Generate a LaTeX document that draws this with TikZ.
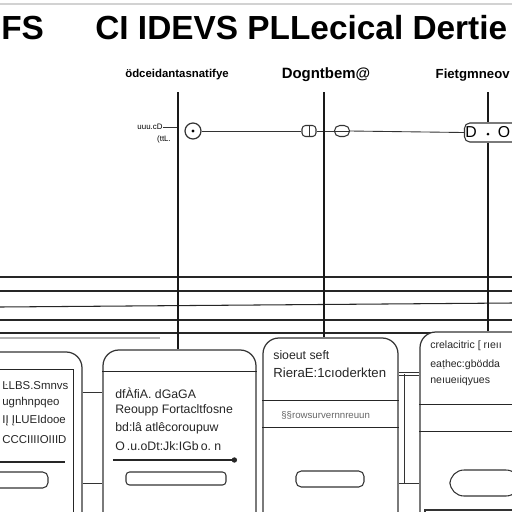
\documentclass[tikz,border=0pt]{standalone}
\usepackage{fontspec}
\setmainfont{Liberation Sans}
\usetikzlibrary{positioning, calc, arrows.meta}

\def\px{0.02cm}

\begin{document}
\begin{tikzpicture}[
  x=0.02cm, y=-0.02cm,
  title/.style={font=\bfseries\fontsize{19}{21}\selectfont, inner sep=0pt},
  collab/.style={font=\bfseries\fontsize{6.5}{7}\selectfont, inner sep=0pt},
  panel/.style={draw=black!80, line width=0.7pt, rounded corners=9pt, fill=white, inner sep=0pt},
  ptext/.style={font=\fontsize{7}{8}\selectfont, anchor=west, inner sep=0pt, text=black!85},
  slot/.style={draw=black!80, line width=0.6pt, rounded corners=2pt, inner sep=0pt},
  rule/.style={draw=black!85, line width=0.6pt},
  stem/.style={draw=black!90, line width=0.9pt},
  wire/.style={draw=black!80, line width=0.5pt},
]

\useasboundingbox (0,0) rectangle (512,512);
\clip (0,0) rectangle (512,512);

%% ====================================================================
%%  TITLE
%% ====================================================================
\draw[gray!35, line width=1.2pt] (0,4) -- (512,4);
\node[title, anchor=west] (ttlA) at (1,28) {FS};
\node[title, anchor=west] (ttlB) at (95,28) {CI IDEVS PLLecical Dertie};

%% ====================================================================
%%  COLUMN LABELS AND STEMS
%% ====================================================================
\node[collab] (colA) at (177,75) {ödceidantasnatifye};
\node[collab, font=\bfseries\fontsize{8.5}{9}\selectfont] (colB) at (326,75) {Dogntbem@};
\node[collab, font=\bfseries\fontsize{7.5}{8}\selectfont, anchor=east] (colC) at (510,75) {Fietgmneov};

\coordinate (stA) at (178,92);
\coordinate (stB) at (324,92);
\coordinate (stC) at (488,92);

%% ====================================================================
%%  UPPER ROW -- DIALS AND PLUGS
%% ====================================================================
\node[font=\fontsize{4.5}{5}\selectfont, inner sep=0pt] (tagA) at (150,127) {uuu.cD};
\node[font=\fontsize{4.5}{5}\selectfont, inner sep=0pt] (tagB) at (164,139) {(ttL.};
\node[draw=black!80, circle, line width=0.7pt, minimum size={16*\px}, inner sep=0pt] (dialA) at (193,131) {};
\fill (dialA) circle (1.6);

\node[slot, minimum width={14*\px}, minimum height={11*\px}] (plugB) at (309,131) {};
\draw[wire] (plugB.north) -- (plugB.south);
\node[slot, rounded corners=3pt, minimum width={15*\px}, minimum height={11*\px}] (lensB) at (342,131) {};
\draw[wire] (lensB.west) -- (lensB.east);

\node[slot, rounded corners=3pt, minimum width={55*\px}, minimum height={19*\px}] (plugC) at (492,132.5) {};
\node[font=\fontsize{9}{9}\selectfont, inner sep=0pt] (plugCd) at (471,132.5) {D};
\node[font=\fontsize{9}{9}\selectfont, inner sep=0pt] (plugCo) at (504,132.5) {O};
\fill (488,134) circle (1.5);

\draw[wire] (tagA.east) -- ++(14,0);
\draw[wire] (dialA.east) -- (plugB.west);
\draw[wire] (plugB.east) -- (lensB.west);
\draw[wire] (lensB.east) -- (plugC.west);

%% ====================================================================
%%  MIDDLE BAND -- RULES
%% ====================================================================
\foreach \yy in {277, 291, 320, 333}
  \draw[rule] (0,\yy) -- (512,\yy);
\draw[rule] (0,307) -- (512,303);
\draw[gray!60, line width=0.8pt] (0,338) -- (160,338);

%% ====================================================================
%%  LOWER ROW -- PANELS
%% ====================================================================
\node[panel, minimum width={102*\px}, minimum height={248*\px}] (boxA) at (31,476) {};
\node[panel, minimum width={153*\px}, minimum height={250*\px}] (boxB) at (179.5,475) {};
\node[panel, minimum width={135*\px}, minimum height={262*\px}] (boxC) at (330.5,469) {};
\node[panel, minimum width={140*\px}, minimum height={268*\px}] (boxD) at (490,466) {};

% panel A
\draw[rule] ($(boxA.north west)+(0,18)$) -| ($(boxA.south east)+(-9,0)$);
\node[ptext, font=\fontsize{6.5}{7}\selectfont] (txA1) at (2,386) {ĿLBS.Smnvs};
\node[ptext, font=\fontsize{6.5}{7}\selectfont] (txA2) at (2,403) {ugnhnpqeo};
\node[ptext, font=\fontsize{6.5}{7}\selectfont] (txA3) at (2,421) {IĮ ĮLUEIdooe};
\node[ptext, font=\fontsize{6.5}{7}\selectfont] (txA4) at (2,440) {CCCIIIIOIIID};
\draw[rule] (0,462) -- (65,462);
\node[slot, rounded corners=3pt, minimum width={58*\px}, minimum height={16*\px}] (slotA) at (19,480) {};

% panel B
\draw[rule] ($(boxB.north west)+(0,22)$) -- ($(boxB.north east)+(0,22)$);
\node[ptext] (txB1) at (115,393) {dfÀfiA. dGaGA};
\node[ptext] (txB2) at (115,410) {Reoupp Fortacltfosne};
\node[ptext] (txB3) at (115,428) {bd:lâ atlêcoroupuw};
\node[ptext] (txB4) at (115,446) {O\,.u.oDt:Jk:IGb\,o.\ n};
\draw[rule, -{Circle[length=3pt]}] (113,460) -- (237,460);
\node[slot, minimum width={100*\px}, minimum height={13*\px}] (slotB) at (176,478.5) {};

% panel C
\draw[rule] ($(boxC.north west)+(0,63)$) -- ($(boxC.north east)+(0,63)$);
\draw[rule] ($(boxC.north west)+(0,90)$) -- ($(boxC.north east)+(0,90)$);
\node[ptext] (txC1) at (273,355) {sioeut seft};
\node[ptext, font=\fontsize{7.5}{8}\selectfont] (txC2) at (273,373) {RieraE:1cıoderkten};
\node[ptext, font=\fontsize{5.5}{6}\selectfont, text=black!60] (txC3) at (281,415) {§§rowsurvernnreuun};
\node[slot, rounded corners=3pt, minimum width={68*\px}, minimum height={16*\px}] (slotC) at (330,479) {};

% panel D
\draw[rule] ($(boxD.north west)+(0,73)$) -- ($(boxD.north east)+(0,73)$);
\draw[rule] ($(boxD.north west)+(0,100)$) -- ($(boxD.north east)+(0,100)$);
\node[ptext, font=\fontsize{6}{7}\selectfont] (txD1) at (430,346) {crelacitric [ rıeıı};
\node[ptext, font=\fontsize{6}{7}\selectfont] (txD2) at (430,365) {eaṭhec:gbödda};
\node[ptext, font=\fontsize{6}{7}\selectfont] (txD3) at (430,381) {neıueıiqyues};
\node[slot, rounded corners=8pt, minimum width={70*\px}, minimum height={26*\px}] (slotD) at (485,483) {};
\node[draw=black!80, line width=0.6pt, minimum width={120*\px}, minimum height={90*\px}, inner sep=0pt] (baseD) at (485,555) {};

%% -- stems down to the panels --
\draw[stem] (stA) -- (stA |- boxB.north);
\draw[stem] (stB) -- (stB |- boxC.north);
\draw[stem] (stC) -- (stC |- plugC.north);
\draw[stem] (stC |- plugC.south) -- (stC |- boxD.north);

%% -- links between panels --
\coordinate (lkA) at (0,392);
\coordinate (lkB) at (0,483);
\coordinate (lkC) at (0,374);
\coordinate (lkD) at (404,374);
\draw[wire] (boxA.east |- lkA) -- (boxB.west |- lkA);
\draw[wire] (boxA.east |- lkB) -- (boxB.west |- lkB);
\draw[wire, double, double distance=1pt] (boxC.east |- lkC) -- (boxD.west |- lkC);
\draw[wire] (lkD) -- (lkD |- lkB);
\draw[wire] (boxC.east |- lkB) -- (boxD.west |- lkB);

\end{tikzpicture}
\end{document}
